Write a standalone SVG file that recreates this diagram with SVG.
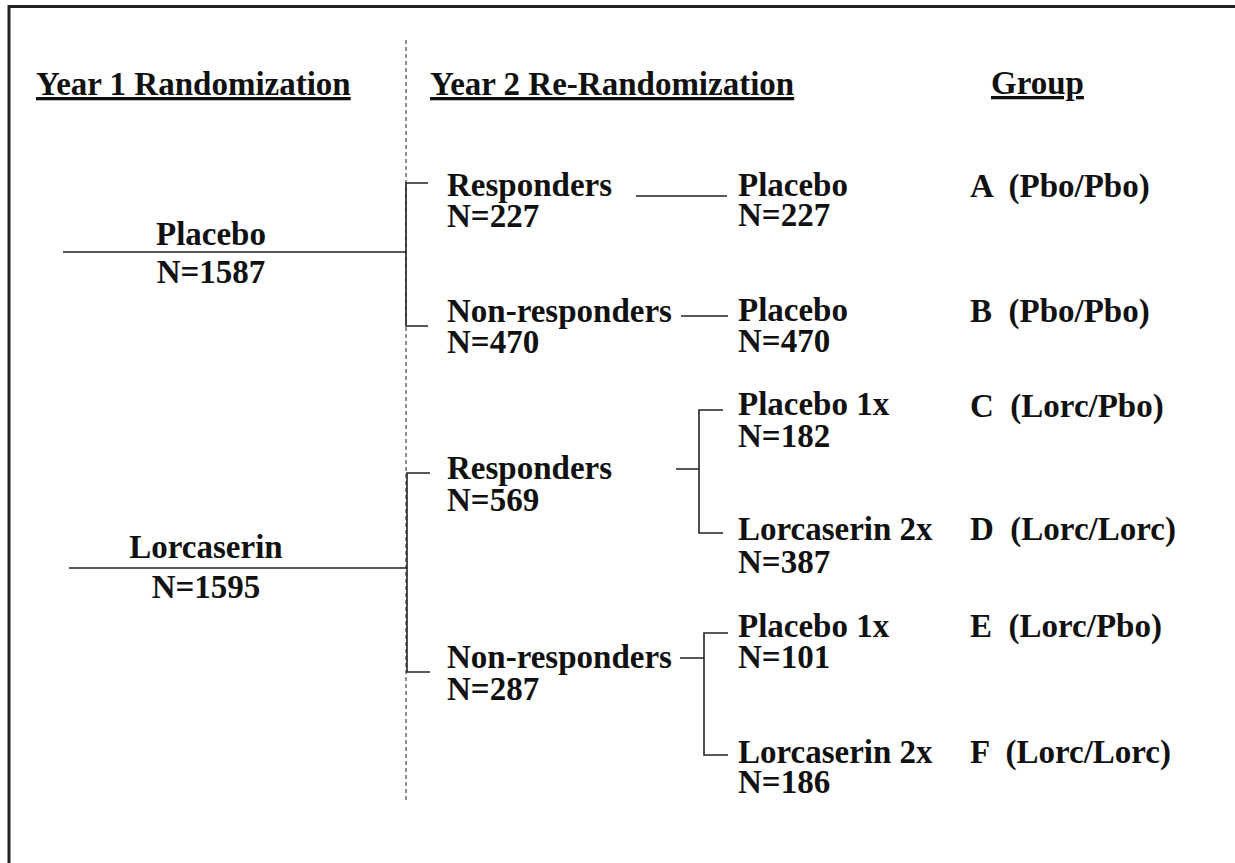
<svg xmlns="http://www.w3.org/2000/svg" width="1235" height="863" viewBox="0 0 1235 863">
<style>
text{font-family:"Liberation Serif","Times New Roman",serif;font-weight:bold;font-size:33px;fill:#111;white-space:pre}
.h{text-decoration:underline}
.c{text-anchor:middle}
.ln{stroke:#222;stroke-width:1.6;fill:none}
.dash{stroke:#555;stroke-width:1.3;stroke-dasharray:4 3;fill:none}
</style>
<rect x="9" y="6.5" width="1300" height="900" fill="#fff" stroke="#222" stroke-width="3"/>
<g id="headers">
<text class="h" x="36" y="95">Year 1 Randomization</text>
<text class="h" x="430" y="95">Year 2 Re-Randomization</text>
<text class="h" x="991" y="94">Group</text>
</g>
<g id="connectors">
<line class="dash" x1="406" y1="40" x2="406" y2="800"/>
<path class="ln" d="M63 252H406M428 183H406V326H428"/>
<path class="ln" d="M69 568H407M430 473H407V672H430"/>
<path class="ln" d="M636 196H727M681 316H728"/>
<path class="ln" d="M676 469H699M723 410H699V533H723"/>
<path class="ln" d="M680 658H704M728 633H704V755H728"/>
</g>
<g id="y1-placebo"><text class="c" x="211" y="245">Placebo</text><text class="c" x="211" y="283">N=1587</text></g>
<g id="y1-lorcaserin"><text class="c" x="206" y="558">Lorcaserin</text><text class="c" x="206" y="598">N=1595</text></g>
<g id="pbo-responders"><text x="447" y="196">Responders</text><text x="447" y="227">N=227</text></g>
<g id="pbo-nonresponders"><text x="447" y="322">Non-responders</text><text x="447" y="353">N=470</text></g>
<g id="lorc-responders"><text x="447" y="479">Responders</text><text x="447" y="511">N=569</text></g>
<g id="lorc-nonresponders"><text x="447" y="668">Non-responders</text><text x="447" y="700">N=287</text></g>
<g id="arm-a"><text x="738" y="196">Placebo</text><text x="738" y="226">N=227</text></g>
<g id="arm-b"><text x="738" y="321">Placebo</text><text x="738" y="352">N=470</text></g>
<g id="arm-c"><text x="738" y="415">Placebo 1x</text><text x="738" y="447">N=182</text></g>
<g id="arm-d"><text x="738" y="540">Lorcaserin 2x</text><text x="738" y="573">N=387</text></g>
<g id="arm-e"><text x="738" y="637">Placebo 1x</text><text x="738" y="668">N=101</text></g>
<g id="arm-f"><text x="738" y="763">Lorcaserin 2x</text><text x="738" y="793">N=186</text></g>
<g id="groups">
<text x="970" y="197">A  (Pbo/Pbo)</text>
<text x="970" y="322">B  (Pbo/Pbo)</text>
<text x="970" y="417">C  (Lorc/Pbo)</text>
<text x="970" y="540">D  (Lorc/Lorc)</text>
<text x="970" y="637">E  (Lorc/Pbo)</text>
<text x="970" y="763">F  (Lorc/Lorc)</text>
</g>
</svg>
